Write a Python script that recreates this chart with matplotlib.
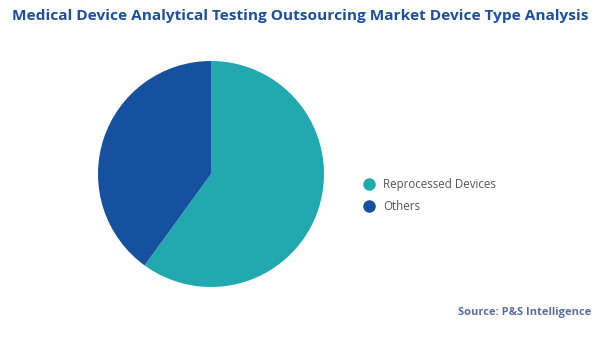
import matplotlib.pyplot as plt
from matplotlib.lines import Line2D

categories = ["Reprocessed Devices", "Others"]
shares = [60, 40]
colors = ["#22a9b0", "#1651a0"]

title = "Medical Device Analytical Testing Outsourcing Market Device Type Analysis"
source = "Source: P&S Intelligence"

fig = plt.figure(figsize=(6, 3.37), dpi=100)
fig.patch.set_facecolor("white")

# Pie axes placed so the circle sits at about (211, 174) px with radius 113 px
ax = fig.add_axes([0.1633, 0.1484, 0.3767, 0.6706])
ax.pie(shares, colors=colors, startangle=90, counterclock=False, radius=1.0,
       wedgeprops=dict(linewidth=0))
ax.set_xlim(-1, 1)
ax.set_ylim(-1, 1)
ax.set_aspect("equal")
ax.axis("off")

fig.text(0.5, 0.952, title, ha="center", va="center", fontsize=11.1,
         fontweight="bold", color="#1c4fa0", family="Open Sans")

handles = [Line2D([0], [0], marker="o", linestyle="", markersize=8,
                  markerfacecolor=c, markeredgecolor=c) for c in colors]
fig.legend(handles, categories, loc="center left", bbox_to_anchor=(0.588, 0.42),
           frameon=False, labelcolor="#555555", handletextpad=0.7,
           labelspacing=0.8, handlelength=1.0, prop={"family": "Open Sans", "size": 8.3})

fig.text(0.985, 0.072, source, ha="right", va="center", fontsize=8,
         fontweight="bold", color="#5a6e9e", family="Open Sans")

fig.savefig("out.png", dpi=100)
plt.close(fig)
